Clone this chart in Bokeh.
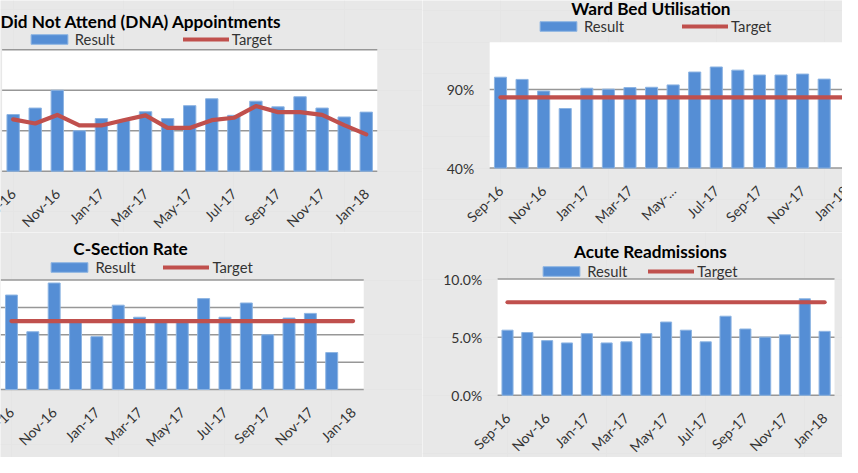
import math
from bokeh.plotting import figure
from bokeh.models import Range1d, Legend, LegendItem, Label
from bokeh.layouts import column, row
from bokeh.core.properties import value
from bokeh.embed import file_html
from bokeh.resources import INLINE

NaN = float("nan")

# ---------------- data ----------------
months = ["Sep-16", "Oct-16", "Nov-16", "Dec-16", "Jan-17", "Feb-17", "Mar-17", "Apr-17",
          "May-17", "Jun-17", "Jul-17", "Aug-17", "Sep-17", "Oct-17", "Nov-17", "Dec-17", "Jan-18"]
ward_months = ["Sep-16", "Oct-16", "Nov-16", "Dec-16", "Jan-17", "Feb-17", "Mar-17", "Apr-17",
               "May-...", "Jun-17", "Jul-17", "Aug-17", "Sep-17", "Oct-17", "Nov-17", "Dec-17", "Jan-18"]

dna_result = [7.0, 7.8, 10.0, 5.0, 6.5, 6.25, 7.35, 6.5, 8.1, 8.95, 6.9, 8.65, 7.95, 9.2, 7.8, 6.7, 7.3]
dna_target = [6.4, 5.9, 6.95, 5.65, 5.65, 6.3, 6.9, 5.35, 5.35, 6.3, 6.6, 8.05, 7.3, 7.3, 6.95, 5.7, 4.55]
dna_yticks = [0, 5, 10, 15]

ward_result = [97.8, 96.4, 89.0, 77.9, 90.8, 90.2, 91.2, 91.4, 92.9, 101.1, 104.3, 102.3, 99.2, 99.2, 99.8, 96.6, NaN]
ward_target = [85, 85, 85, 85, 85, 85, 85, 85, 85, 85, 85, 85, 85, 85, 85, 85, 85]
ward_yticks = [40, 90]
ward_ylabels = ["40%", "90%"]

csec_result = [34.5, 21.1, 38.9, 24.8, 19.3, 30.8, 26.4, 25.0, 24.7, 33.2, 26.4, 31.6, 20.0, 26.1, 27.8, 13.5, NaN]
csec_target = [25, 25, 25, 25, 25, 25, 25, 25, 25, 25, 25, 25, 25, 25, 25, 25, 25]
csec_yticks = [0, 10, 20, 30, 40]

acute_result = [5.6, 5.4, 4.7, 4.5, 5.3, 4.5, 4.6, 5.3, 6.3, 5.6, 4.6, 6.8, 5.7, 5.0, 5.2, 8.3, 5.5]
acute_target = [8.0, 8.0, 8.0, 8.0, 8.0, 8.0, 8.0, 8.0, 8.0, 8.0, 8.0, 8.0, 8.0, 8.0, 8.0, 8.0, 8.0]
acute_yticks = [0, 5, 10]
acute_ylabels = ["0.0%", "5.0%", "10.0%"]

# ---------------- style ----------------
BG = "#e8e8e8"
BAR = "#558ed5"
BAR_EDGE = "#8db4e2"
RED = "#c0504d"
GRID = "#979797"
FONT = "Lato"
FONT_V = value(FONT)
TXT = "#333333"


def make_chart(title, result, target, labels, yticks, ylabels, ystart, yend,
               W, H, x0, cw, pt, pb,
               title_x, title_y, title_align, leg_x, leg_y, leg_spacing):
    """W,H figure size; x0 plot-area left px, cw category width px,
    pt/pb plot-area top/bottom px (from the figure top)."""
    n = len(result)
    idx = list(range(n))
    xs = -0.5 - x0 / cw
    dpp = (yend - ystart) / (pb - pt)
    p = figure(width=W, height=H, output_backend="svg", toolbar_location=None, title=None,
               x_range=Range1d(xs, xs + W / cw),
               y_range=Range1d(ystart - (H - pb) * dpp, yend + pt * dpp),
               x_axis_location=None, y_axis_location=None,
               min_border_left=0, min_border_right=0, min_border_top=0, min_border_bottom=0,
               background_fill_color=BG, border_fill_color=BG, outline_line_color=None)

    # white plot area
    p.quad(left=-0.5, right=n - 0.5, bottom=ystart, top=yend,
           fill_color="white", line_color=None)
    # horizontal gridlines (incl. the category axis line at the bottom)
    p.segment(x0=[-0.5] * len(yticks), x1=[n - 0.5] * len(yticks), y0=yticks, y1=yticks,
              line_color=GRID, line_width=1.5)

    bars = p.vbar(x=idx, top=result, bottom=ystart, width=0.56, fill_color=BAR,
                  line_color=BAR_EDGE, line_width=1)
    line = p.line(x=idx, y=target, line_color=RED, line_width=4.2,
                  line_cap="round", line_join="round")

    # category labels (every second month), rotated like the original
    tick_idx = idx[::2]
    p.text(x=tick_idx, y=[ystart] * len(tick_idx), text=[labels[i] for i in tick_idx],
           angle=math.pi / 4, text_align="right", text_baseline="middle",
           x_offset=0, y_offset=20, text_font=FONT_V, text_font_size="14px",
           text_color=TXT)

    # value labels
    if ylabels is not None:
        p.text(x=[-0.5] * len(yticks), y=yticks, text=ylabels,
               text_align="right", text_baseline="middle", x_offset=-15.5,
               text_font=FONT_V, text_font_size="14px", text_color=TXT)

    # title
    p.add_layout(Label(x=title_x, y=H - title_y, x_units="screen", y_units="screen",
                       text=title, text_font=FONT, text_font_style="bold",
                       text_font_size="17.2px", text_color="black",
                       text_align=title_align, text_baseline="middle"))

    # legend (location = bottom-left corner of the legend box)
    legend = Legend(items=[LegendItem(label="Result", renderers=[bars]),
                           LegendItem(label="Target", renderers=[line])],
                    orientation="horizontal", location=(leg_x, H - leg_y - 9.5),
                    glyph_width=46, glyph_height=12, label_height=12,
                    label_standoff=3, spacing=int(round(leg_spacing)), padding=0, margin=0,
                    border_line_color=None, background_fill_alpha=0,
                    label_text_font=FONT, label_text_font_size="14.8px",
                    label_text_color=TXT, label_text_baseline="middle")
    p.add_layout(legend)
    return p


p1 = make_chart("Did Not Attend (DNA) Appointments", dna_result, dna_target, months,
                dna_yticks, None, 0, 15,
                422, 232, 1.6, 22.07, 49.3, 170.7,
                0, 20.5, "left", 25.8, 38.4, 68)
p2 = make_chart("Ward Bed Utilisation", ward_result, ward_target, ward_months,
                ward_yticks, ward_ylabels, 40, 120,
                420, 232, 67.2, 21.58, 41.8, 167.6,
                228.4, 8, "center", 113, 25.1, 58)
p3 = make_chart("C-Section Rate", csec_result, csec_target, months,
                csec_yticks, None, 0, 40,
                422, 225, 0.3, 21.35, 47.5, 157.0,
                130, 15.8, "center", 46.4, 34.3, 28)
p4 = make_chart("Acute Readmissions", acute_result, acute_target, months,
                acute_yticks, acute_ylabels, 0, 10,
                420, 225, 75.1, 19.82, 46.5, 162.8,
                227.9, 19.4, "center", 116.2, 38.8, 21)

layout = column(row(p1, p2), row(p3, p4))
open("out.html", "w").write(file_html(layout, INLINE))
